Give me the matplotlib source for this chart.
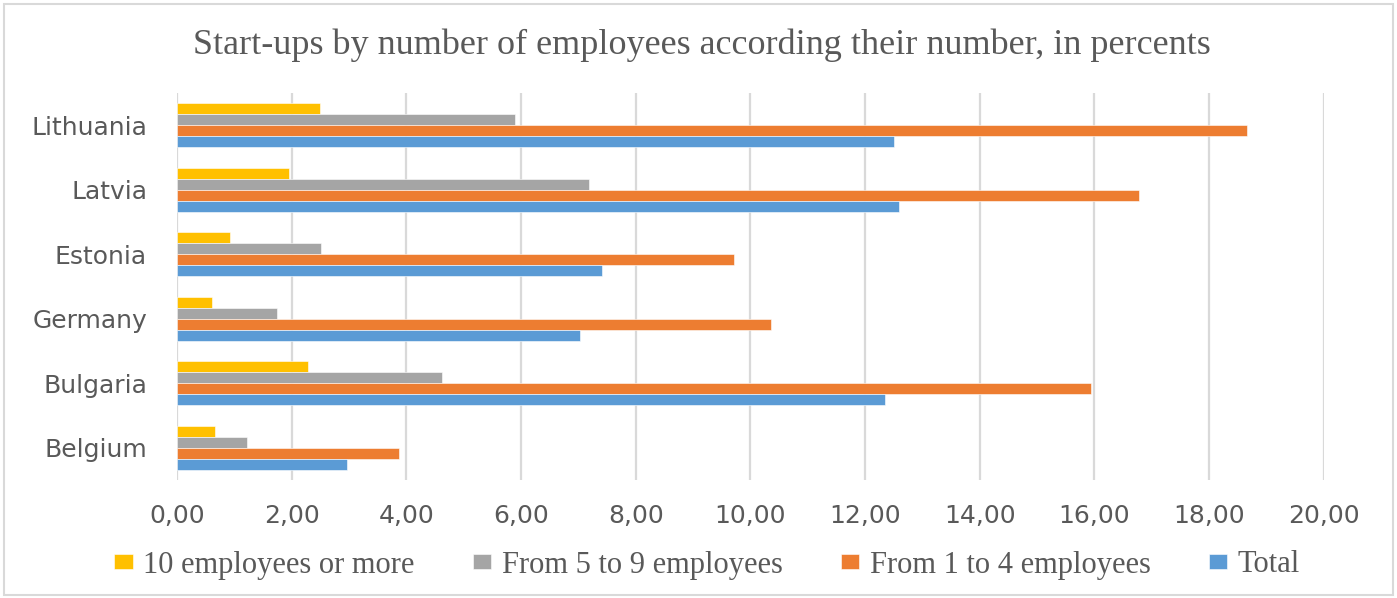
import matplotlib
matplotlib.use("Agg")
import matplotlib.pyplot as plt
from matplotlib.patches import Rectangle
import numpy as np

countries = ["Belgium", "Bulgaria", "Germany", "Estonia", "Latvia", "Lithuania"]
series_names = ["10 employees or more", "From 5 to 9 employees", "From 1 to 4 employees", "Total"]
ten_plus = [0.66, 2.28, 0.61, 0.93, 1.96, 2.49]
five_to_nine = [1.22, 4.62, 1.75, 2.52, 7.18, 5.89]
one_to_four = [3.88, 15.94, 10.36, 9.71, 16.77, 18.66]
total = [2.96, 12.34, 7.03, 7.42, 12.60, 12.51]
x_ticks = [0, 2, 4, 6, 8, 10, 12, 14, 16, 18, 20]
x_tick_labels = ["0,00", "2,00", "4,00", "6,00", "8,00", "10,00", "12,00", "14,00", "16,00", "18,00", "20,00"]
title = "Start-ups by number of employees according their number, in percents"

colors = ["#FFC000", "#A5A5A5", "#ED7D31", "#5B9BD5"]
values = [ten_plus, five_to_nine, one_to_four, total]

W, H = 1397, 598
fig = plt.figure(figsize=(W / 100, H / 100), dpi=100)
ax = fig.add_axes([177 / W, 1 - 480 / H, (1323.7 - 177) / W, (480 - 93) / H])

y = np.arange(len(countries))
bh = 0.172
offsets = [1.5 * bh, 0.5 * bh, -0.5 * bh, -1.5 * bh]
handles = []
for vals, col, off, name in zip(values, colors, offsets, series_names):
    b = ax.barh(y + off, vals, height=bh, color=col, edgecolor="white", linewidth=0.4, label=name, zorder=3)
    handles.append(b)

ax.set_xlim(0, 20)
ax.set_ylim(-0.5, len(countries) - 0.5)
ax.set_xticks(x_ticks)
ax.set_xticklabels(x_tick_labels)
ax.set_yticks(y)
ax.set_yticklabels(countries)
ax.grid(axis="x", color="#D9D9D9", linewidth=1.6, zorder=0)
ax.set_axisbelow(True)
for s in ax.spines.values():
    s.set_visible(False)
ax.tick_params(axis="both", length=0, labelsize=18, labelcolor="#595959")
ax.tick_params(axis="x", pad=17)
ax.tick_params(axis="y", pad=21.6)
for lab in ax.get_xticklabels() + ax.get_yticklabels():
    lab.set_family("DejaVu Sans")

fig.text(702 / W, 1 - 54 / H, title, ha="center", va="baseline", family="Liberation Serif",
         fontsize=26, color="#595959")

leg = fig.legend(handles=handles, labels=series_names, loc="center", bbox_to_anchor=(707 / W, 1 - 565 / H),
                 ncol=4, frameon=False, prop={"family": "Liberation Serif", "size": 22},
                 handlelength=0.6, handleheight=0.35, handletextpad=0.35, columnspacing=1.9,
                 labelcolor="#595959", borderaxespad=0, borderpad=0)

fig.patches.append(Rectangle((4 / W, 3 / H), (W - 8) / W, (H - 7) / H, transform=fig.transFigure,
                             fill=False, edgecolor="#D9D9D9", linewidth=1.5))

fig.savefig("out.png", dpi=100)
